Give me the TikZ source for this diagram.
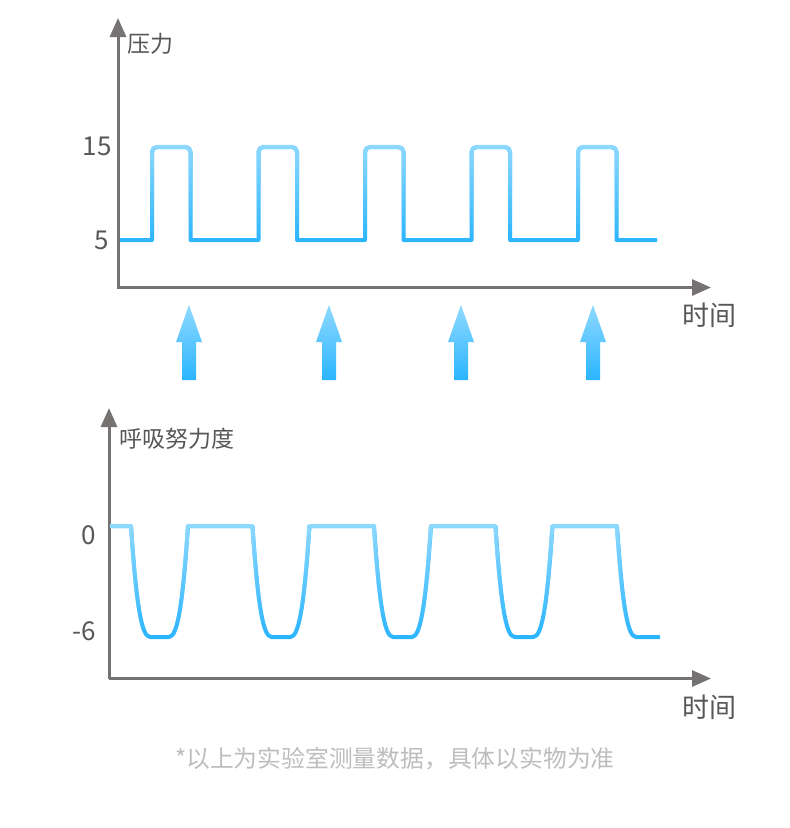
\documentclass[tikz,border=0pt]{standalone}
\usepackage{fontspec}
\setmainfont{Noto Sans CJK SC}
\usetikzlibrary{arrows.meta,fadings}
\definecolor{axisgray}{HTML}{767272}
\definecolor{txtgray}{HTML}{5A5656}
\definecolor{notegray}{HTML}{BDBDBD}
\definecolor{wavelight}{HTML}{8ED9FF}
\definecolor{wavedark}{HTML}{2BB5FF}
\tikzfading[name=fadeup, top color=transparent!0, bottom color=transparent!100]
\tikzset{
  axisline/.style={draw=axisgray, line width=3pt, -{Triangle[length=19pt,width=16pt]}},
  wavebase/.style={draw=wavedark, line width=4pt, line join=round, line cap=butt},
  wavetop/.style={draw=wavelight, line width=4pt, line join=round, line cap=butt, path fading=fadeup},
  upshape/.style={top color=wavelight, bottom color=wavedark, draw=none},
  ticklbl/.style={text=txtgray, font=\fontsize{26}{30}\selectfont, anchor=east, inner sep=0pt},
  axislbl/.style={text=txtgray, font=\fontsize{23}{27}\selectfont, anchor=west, inner sep=0pt},
  timelbl/.style={text=txtgray, font=\fontsize{27}{31}\selectfont, inner sep=0pt},
  notelbl/.style={text=notegray, font=\fontsize{23.8}{28}\selectfont, inner sep=0pt}
}
\newcommand{\topwavepath}{(120,240) \foreach \r in {152,258.5,365,471.5,578} { -- (\r,240) [rounded corners=5pt] -- (\r,147) -- (\r+38.5,147) [sharp corners] -- (\r+38.5,240) } -- (657,240)}
\newcommand{\botwavepath}{(110,526) \foreach \d in {131,252.5,374,495.5} { -- (\d,526) .. controls (\d+5,600) and (\d+10,637) .. (\d+19,637) -- (\d+38,637) .. controls (\d+47,637) and (\d+52,600) .. (\d+57,526) } -- (617,526) .. controls (622,600) and (627,637) .. (636,637) -- (660,637)}
\newcommand{\upshapeat}[1]{\shade[upshape] (#1,305) -- (#1+13,342) -- (#1+7,342) -- (#1+7,380) -- (#1-7,380) -- (#1-7,342) -- (#1-13,342) -- cycle;}
\begin{document}
\begin{tikzpicture}[x=1pt,y=-1pt]
\useasboundingbox (0,0) rectangle (790,828);
% top chart axes
\coordinate (o1) at (118,287.5);
\coordinate (y1) at (118,18);
\coordinate (x1) at (711,287.5);
\draw[axisline] (o1) -- (y1);
\draw[axisline] (o1) -- (x1);
\draw[axisgray, line width=3pt] (116.5,287.5) -- (o1);
% top wave
\draw[wavebase] \topwavepath;
\draw[wavetop] \topwavepath;
% top labels
\node[ticklbl] (t15) at (112,146) {15};
\node[ticklbl] (t5) at (109,240) {5};
\node[axislbl] (ylab1) at (127,44) {压力};
\node[timelbl] (xlab1) at (709,315) {时间};
% arrows
\upshapeat{189}
\upshapeat{329}
\upshapeat{461}
\upshapeat{593}
% bottom chart axes
\coordinate (o2) at (109,678.5);
\coordinate (y2) at (109,408);
\coordinate (x2) at (711,678.5);
\draw[axisline] (o2) -- (y2);
\draw[axisline] (o2) -- (x2);
% bottom wave
\draw[wavebase] \botwavepath;
\draw[wavetop] \botwavepath;
% bottom labels
\node[ticklbl] (t0) at (96,535) {0};
\node[ticklbl] (tm6) at (96,631) {-6};
\node[axislbl] (ylab2) at (119,439) {呼吸努力度};
\node[timelbl] (xlab2) at (709,707) {时间};
% footnote
\node[notelbl] (note) at (395,759) {*以上为实验室测量数据，具体以实物为准};
\end{tikzpicture}
\end{document}
